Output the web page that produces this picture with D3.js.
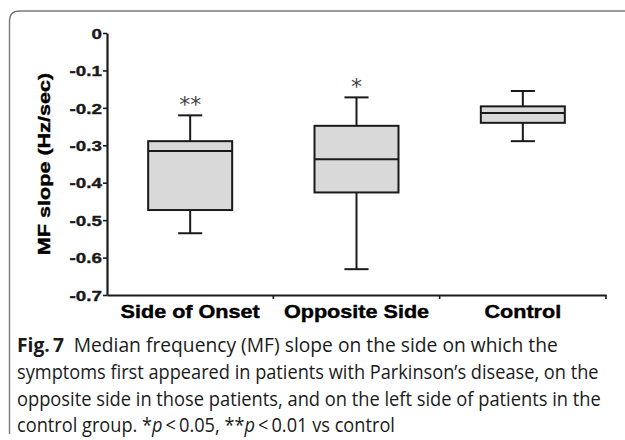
<!DOCTYPE html>
<html>
<head>
<meta charset="utf-8">
<script src="https://cdn.jsdelivr.net/npm/d3@7"></script>
<style>
  html, body { margin: 0; padding: 0; background: #fff; }
  svg { display: block; }
</style>
</head>
<body>
<svg id="chart" width="625" height="440"></svg>
<script>
// ---- data ----
const categories = ["Side of Onset", "Opposite Side", "Control"];
const whiskerHigh = [-0.22, -0.172, -0.155];
const q3 = [-0.289, -0.248, -0.196];
const medians = [-0.315, -0.337, -0.214];
const q1 = [-0.473, -0.426, -0.240];
const whiskerLow = [-0.535, -0.631, -0.289];
const significance = ["**", "*", ""];
const yTicks = [0, -0.1, -0.2, -0.3, -0.4, -0.5, -0.6, -0.7];
const yTitle = "MF slope (Hz/sec)";
const captionLines = [
  [{t: "Fig.\u20097", b: true}, {t: "\u2002Median frequency (MF) slope on the side on which the"}],
  [{t: "symptoms first appeared in patients with Parkinson\u2019s disease, on the"}],
  [{t: "opposite side in those patients, and on the left side of patients in the"}],
  [{t: "control group. *"}, {t: "p", i: true}, {t: "\u2009<\u20090.05, **"}, {t: "p", i: true}, {t: "\u2009<\u20090.01 vs control"}]
];

const svg = d3.select("#chart");
const ink = "#1a1a1a";
const boldFont = "'Liberation Sans', Arial, sans-serif";

// frame
svg.append("path")
  .attr("d", "M9.5,434 L9.5,21 Q9.5,11 19.5,11 L625,11")
  .attr("fill", "none").attr("stroke", "#7a7a7a").attr("stroke-width", 1.4);

// scales
const y = d3.scaleLinear().domain([-0.7, 0]).range([295, 33]);
const x = d3.scaleBand().domain(categories).range([107, 606]).padding(0);
const boxW = x.bandwidth() * 0.505;
const capW = x.bandwidth() * 0.145;

// y axis
const yAxis = svg.append("g").attr("transform", "translate(107,0)")
  .call(d3.axisLeft(y).tickValues(yTicks).tickSize(4).tickSizeOuter(0)
        .tickFormat(d => d === 0 ? "0" : d.toFixed(1)));
yAxis.select(".domain").attr("stroke", ink).attr("stroke-width", 2.2);
yAxis.selectAll(".tick line").attr("stroke", ink).attr("stroke-width", 1.6);
const ySx = 1.3;
yAxis.selectAll(".tick text")
  .attr("x", -5 / ySx).attr("dy", "0.36em")
  .attr("transform", `scale(${ySx},1)`)
  .attr("fill", ink).attr("stroke", ink).attr("stroke-width", 0.35)
  .style("font-family", boldFont).style("font-weight", "bold").style("font-size", "14.5px");

// x axis
const xAxis = svg.append("g").attr("transform", "translate(0,295)")
  .call(d3.axisBottom(x).tickSize(0).tickSizeOuter(0));
xAxis.select(".domain").attr("stroke", ink).attr("stroke-width", 2.2);
xAxis.selectAll(".tick line").remove();
const bounds = categories.slice(1).map(c => x(c)).concat([x.range()[1]]);
xAxis.selectAll("line.bound").data(bounds).enter().append("line")
  .attr("class", "bound").attr("x1", d => d).attr("x2", d => d)
  .attr("y1", 0).attr("y2", 4).attr("stroke", ink).attr("stroke-width", 1.6);
const xSx = 1.2;
xAxis.selectAll(".tick text")
  .attr("y", 0).attr("dy", 0)
  .attr("transform", `translate(0,23) scale(${xSx},1)`)
  .attr("fill", "#000").attr("stroke", "#000").attr("stroke-width", 0.4)
  .style("font-family", boldFont).style("font-weight", "bold").style("font-size", "18px");

// y title
svg.append("text")
  .attr("transform", `translate(49.5,164) rotate(-90) scale(1.27,1)`)
  .attr("text-anchor", "middle")
  .attr("fill", "#000").attr("stroke", "#000").attr("stroke-width", 0.4)
  .style("font-family", boldFont).style("font-weight", "bold").style("font-size", "17px")
  .text(yTitle);

// boxes
const idx = d3.range(categories.length);
const g = svg.append("g");
const cx = i => x(categories[i]) + x.bandwidth() / 2;
g.selectAll("line.wh").data(idx).enter().append("line")
  .attr("x1", cx).attr("x2", cx)
  .attr("y1", i => y(whiskerHigh[i])).attr("y2", i => y(q3[i]))
  .attr("stroke", ink).attr("stroke-width", 2);
g.selectAll("line.wl").data(idx).enter().append("line")
  .attr("x1", cx).attr("x2", cx)
  .attr("y1", i => y(q1[i])).attr("y2", i => y(whiskerLow[i]))
  .attr("stroke", ink).attr("stroke-width", 2);
g.selectAll("line.ch").data(idx).enter().append("line")
  .attr("x1", i => cx(i) - capW / 2).attr("x2", i => cx(i) + capW / 2)
  .attr("y1", i => y(whiskerHigh[i])).attr("y2", i => y(whiskerHigh[i]))
  .attr("stroke", ink).attr("stroke-width", 2);
g.selectAll("line.cl").data(idx).enter().append("line")
  .attr("x1", i => cx(i) - capW / 2).attr("x2", i => cx(i) + capW / 2)
  .attr("y1", i => y(whiskerLow[i])).attr("y2", i => y(whiskerLow[i]))
  .attr("stroke", ink).attr("stroke-width", 2);
g.selectAll("rect.box").data(idx).enter().append("rect")
  .attr("x", i => cx(i) - boxW / 2).attr("width", boxW)
  .attr("y", i => y(q3[i])).attr("height", i => y(q1[i]) - y(q3[i]))
  .attr("fill", "#d9d9d9").attr("stroke", ink).attr("stroke-width", 2);
g.selectAll("line.med").data(idx).enter().append("line")
  .attr("x1", i => cx(i) - boxW / 2).attr("x2", i => cx(i) + boxW / 2)
  .attr("y1", i => y(medians[i])).attr("y2", i => y(medians[i]))
  .attr("stroke", ink).attr("stroke-width", 2);
g.selectAll("text.sig").data(idx).enter().append("text")
  .attr("x", cx).attr("y", i => y(whiskerHigh[i]) - 3)
  .attr("text-anchor", "middle")
  .attr("fill", "#444")
  .style("font-family", "'DejaVu Sans', sans-serif").style("font-size", "22px")
  .text(i => significance[i]);

// caption
const cap = svg.append("g").attr("class", "caption");
const capBase = [352, 379, 406, 432.5];
const capWidth = [541, 582, 584, null];
const lines = cap.selectAll("text").data(captionLines).enter().append("text")
  .attr("x", 0).attr("y", (d, i) => capBase[i])
  .attr("fill", "#1a1a1a")
  .style("font-family", "'Open Sans', 'Noto Sans', sans-serif").style("font-size", "20px");
lines.each(function(parts) {
  const t = d3.select(this);
  parts.forEach(p => {
    t.append("tspan").text(p.t)
      .style("font-weight", p.b ? "bold" : "normal")
      .style("font-style", p.i ? "italic" : "normal");
  });
});
const kBase = capWidth[1] / lines.nodes()[1].getComputedTextLength();
lines.each(function(d, i) {
  const len = this.getComputedTextLength();
  const k = capWidth[i] ? capWidth[i] / len : kBase;
  d3.select(this).attr("transform", `translate(17,0) scale(${k},1)`);
});
</script>
</body>
</html>
